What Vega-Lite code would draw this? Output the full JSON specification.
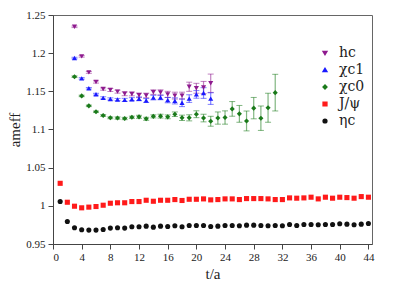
{
  "$schema": "https://vega.github.io/schema/vega-lite/v6.json",
  "width": 319,
  "height": 229,
  "autosize": "none",
  "padding": {"left": 53, "top": 15, "right": 38, "bottom": 45},
  "config": {
    "font": "Liberation Serif",
    "view": {"stroke": "#666", "strokeWidth": 1},
    "axis": {"labelFont": "Liberation Serif", "titleFont": "Liberation Serif", "labelFontSize": 11, "titleFontSize": 15, "titleFontWeight": "normal", "labelColor": "#222", "titleColor": "#222", "domainColor": "#444", "tickColor": "#444", "grid": false, "tickSize": 5, "labelOverlap": false},
    "legend": {"labelFont": "DejaVu Serif", "labelFontSize": 14, "labelColor": "#222", "symbolOpacity": 1, "symbolSize": 14, "rowPadding": 3, "labelOffset": 7}
  },
  "datasets": {
    "pts": [
      {"s":"hc","t":3,"v":1.2345,"err":0.001},{"s":"hc","t":4,"v":1.1958,"err":0.001},{"s":"hc","t":5,"v":1.1748,"err":0.0012},{"s":"hc","t":6,"v":1.1623,"err":0.0015},{"s":"hc","t":7,"v":1.153,"err":0.0015},{"s":"hc","t":8,"v":1.1518,"err":0.002},{"s":"hc","t":9,"v":1.1496,"err":0.002},{"s":"hc","t":10,"v":1.1468,"err":0.0025},{"s":"hc","t":11,"v":1.1466,"err":0.0025},{"s":"hc","t":12,"v":1.1448,"err":0.003},{"s":"hc","t":13,"v":1.1446,"err":0.003},{"s":"hc","t":14,"v":1.149,"err":0.003},{"s":"hc","t":15,"v":1.1485,"err":0.0035},{"s":"hc","t":16,"v":1.146,"err":0.004},{"s":"hc","t":17,"v":1.1444,"err":0.0045},{"s":"hc","t":18,"v":1.1444,"err":0.0045},{"s":"hc","t":19,"v":1.156,"err":0.006},{"s":"hc","t":20,"v":1.154,"err":0.0065},{"s":"hc","t":21,"v":1.155,"err":0.008},{"s":"hc","t":22,"v":1.1606,"err":0.012},
      {"s":"χc1","t":3,"v":1.1936,"err":0.001},{"s":"χc1","t":4,"v":1.167,"err":0.001},{"s":"χc1","t":5,"v":1.154,"err":0.001},{"s":"χc1","t":6,"v":1.1462,"err":0.0012},{"s":"χc1","t":7,"v":1.1414,"err":0.0015},{"s":"χc1","t":8,"v":1.14,"err":0.0015},{"s":"χc1","t":9,"v":1.1392,"err":0.0015},{"s":"χc1","t":10,"v":1.1388,"err":0.002},{"s":"χc1","t":11,"v":1.1397,"err":0.002},{"s":"χc1","t":12,"v":1.1402,"err":0.0025},{"s":"χc1","t":13,"v":1.138,"err":0.0025},{"s":"χc1","t":14,"v":1.1418,"err":0.003},{"s":"χc1","t":15,"v":1.142,"err":0.003},{"s":"χc1","t":16,"v":1.1385,"err":0.0035},{"s":"χc1","t":17,"v":1.1375,"err":0.004},{"s":"χc1","t":18,"v":1.135,"err":0.005},{"s":"χc1","t":19,"v":1.1405,"err":0.005},{"s":"χc1","t":20,"v":1.146,"err":0.005},{"s":"χc1","t":21,"v":1.1478,"err":0.007},{"s":"χc1","t":22,"v":1.1405,"err":0.0076},
      {"s":"χc0","t":3,"v":1.1692,"err":0.001},{"s":"χc0","t":4,"v":1.144,"err":0.001},{"s":"χc0","t":5,"v":1.131,"err":0.001},{"s":"χc0","t":6,"v":1.1232,"err":0.001},{"s":"χc0","t":7,"v":1.1183,"err":0.0012},{"s":"χc0","t":8,"v":1.1153,"err":0.0012},{"s":"χc0","t":9,"v":1.115,"err":0.0015},{"s":"χc0","t":10,"v":1.1144,"err":0.0015},{"s":"χc0","t":11,"v":1.116,"err":0.0015},{"s":"χc0","t":12,"v":1.1166,"err":0.002},{"s":"χc0","t":13,"v":1.114,"err":0.002},{"s":"χc0","t":14,"v":1.1172,"err":0.002},{"s":"χc0","t":15,"v":1.1175,"err":0.0025},{"s":"χc0","t":16,"v":1.1166,"err":0.0025},{"s":"χc0","t":17,"v":1.12,"err":0.003},{"s":"χc0","t":18,"v":1.1153,"err":0.0035},{"s":"χc0","t":19,"v":1.1153,"err":0.004},{"s":"χc0","t":20,"v":1.12,"err":0.0045},{"s":"χc0","t":21,"v":1.115,"err":0.005},{"s":"χc0","t":22,"v":1.1108,"err":0.0065},{"s":"χc0","t":23,"v":1.115,"err":0.008},{"s":"χc0","t":24,"v":1.1157,"err":0.0087},{"s":"χc0","t":25,"v":1.127,"err":0.0096},{"s":"χc0","t":26,"v":1.1205,"err":0.011},{"s":"χc0","t":27,"v":1.1112,"err":0.013},{"s":"χc0","t":28,"v":1.128,"err":0.014},{"s":"χc0","t":29,"v":1.1148,"err":0.016},{"s":"χc0","t":30,"v":1.1285,"err":0.019},{"s":"χc0","t":31,"v":1.1483,"err":0.024},
      {"s":"J/ψ","t":1,"v":1.0295},{"s":"J/ψ","t":2,"v":1.0047},{"s":"J/ψ","t":3,"v":0.9995},{"s":"J/ψ","t":4,"v":0.9974},{"s":"J/ψ","t":5,"v":0.9983},{"s":"J/ψ","t":6,"v":0.9991},{"s":"J/ψ","t":7,"v":1.0008},{"s":"J/ψ","t":8,"v":1.0034},{"s":"J/ψ","t":9,"v":1.004},{"s":"J/ψ","t":10,"v":1.004},{"s":"J/ψ","t":11,"v":1.0056},{"s":"J/ψ","t":12,"v":1.0056},{"s":"J/ψ","t":13,"v":1.0073},{"s":"J/ψ","t":14,"v":1.006},{"s":"J/ψ","t":15,"v":1.0073},{"s":"J/ψ","t":16,"v":1.0073},{"s":"J/ψ","t":17,"v":1.0082},{"s":"J/ψ","t":18,"v":1.007},{"s":"J/ψ","t":19,"v":1.0086},{"s":"J/ψ","t":20,"v":1.0086},{"s":"J/ψ","t":21,"v":1.0091},{"s":"J/ψ","t":22,"v":1.0078},{"s":"J/ψ","t":23,"v":1.0082},{"s":"J/ψ","t":24,"v":1.0091},{"s":"J/ψ","t":25,"v":1.0091},{"s":"J/ψ","t":26,"v":1.0082},{"s":"J/ψ","t":27,"v":1.0095},{"s":"J/ψ","t":28,"v":1.0095},{"s":"J/ψ","t":29,"v":1.0095},{"s":"J/ψ","t":30,"v":1.0091},{"s":"J/ψ","t":31,"v":1.0082},{"s":"J/ψ","t":32,"v":1.0082},{"s":"J/ψ","t":33,"v":1.0104},{"s":"J/ψ","t":34,"v":1.01},{"s":"J/ψ","t":35,"v":1.0104},{"s":"J/ψ","t":36,"v":1.0113},{"s":"J/ψ","t":37,"v":1.0091},{"s":"J/ψ","t":38,"v":1.0113},{"s":"J/ψ","t":39,"v":1.01},{"s":"J/ψ","t":40,"v":1.0113},{"s":"J/ψ","t":41,"v":1.0108},{"s":"J/ψ","t":42,"v":1.01},{"s":"J/ψ","t":43,"v":1.0121},{"s":"J/ψ","t":44,"v":1.0113},
      {"s":"ηc","t":1,"v":1.0056},{"s":"ηc","t":2,"v":0.9795},{"s":"ηc","t":3,"v":0.9713},{"s":"ηc","t":4,"v":0.9687},{"s":"ηc","t":5,"v":0.9682},{"s":"ηc","t":6,"v":0.9682},{"s":"ηc","t":7,"v":0.969},{"s":"ηc","t":8,"v":0.9708},{"s":"ηc","t":9,"v":0.9713},{"s":"ηc","t":10,"v":0.9708},{"s":"ηc","t":11,"v":0.9726},{"s":"ηc","t":12,"v":0.9726},{"s":"ηc","t":13,"v":0.9734},{"s":"ηc","t":14,"v":0.9721},{"s":"ηc","t":15,"v":0.9734},{"s":"ηc","t":16,"v":0.973},{"s":"ηc","t":17,"v":0.9739},{"s":"ηc","t":18,"v":0.9726},{"s":"ηc","t":19,"v":0.9743},{"s":"ηc","t":20,"v":0.9743},{"s":"ηc","t":21,"v":0.9743},{"s":"ηc","t":22,"v":0.973},{"s":"ηc","t":23,"v":0.9734},{"s":"ηc","t":24,"v":0.9743},{"s":"ηc","t":25,"v":0.9743},{"s":"ηc","t":26,"v":0.9739},{"s":"ηc","t":27,"v":0.9747},{"s":"ηc","t":28,"v":0.9747},{"s":"ηc","t":29,"v":0.9743},{"s":"ηc","t":30,"v":0.9739},{"s":"ηc","t":31,"v":0.9743},{"s":"ηc","t":32,"v":0.9739},{"s":"ηc","t":33,"v":0.9756},{"s":"ηc","t":34,"v":0.9743},{"s":"ηc","t":35,"v":0.9756},{"s":"ηc","t":36,"v":0.9756},{"s":"ηc","t":37,"v":0.9752},{"s":"ηc","t":38,"v":0.9756},{"s":"ηc","t":39,"v":0.9756},{"s":"ηc","t":40,"v":0.9765},{"s":"ηc","t":41,"v":0.976},{"s":"ηc","t":42,"v":0.9752},{"s":"ηc","t":43,"v":0.976},{"s":"ηc","t":44,"v":0.9769}
    ]
  },
  "data": {"name": "pts"},
  "encoding": {
    "x": {"field": "t", "type": "quantitative", "scale": {"domain": [0, 44.5], "nice": false}, "axis": {"title": "t/a", "values": [0,4,8,12,16,20,24,28,32,36,40,44], "labelPadding": 2, "titlePadding": 4}},
    "y": {"field": "v", "type": "quantitative", "scale": {"domain": [0.95, 1.25], "nice": false, "zero": false}, "axis": {"title": "ameff", "format": ".2~f", "values": [0.95,1,1.05,1.1,1.15,1.2,1.25], "labelPadding": 3, "titlePadding": 3}},
    "color": {"field": "s", "type": "nominal", "title": null, "scale": {"domain": ["hc","χc1","χc0","J/ψ","ηc"], "range": ["#8e1a8e","#1a1aff","#1a7a1a","#ff1a1a","#111111"]}, "legend": {"orient": "none", "legendX": 265, "legendY": 31}}
  },
  "layer": [
    {
      "transform": [{"filter": "isValid(datum.err)"}],
      "mark": {"type": "errorbar", "ticks": {"size": 6, "opacity": 0.55}, "rule": {"opacity": 0.55, "strokeWidth": 1.2}},
      "encoding": {
        "yError": {"field": "err"}
      }
    },
    {
      "mark": {"type": "point", "filled": true, "opacity": 1, "size": 26},
      "encoding": {
        "shape": {"field": "s", "type": "nominal", "title": null, "scale": {"domain": ["hc","χc1","χc0","J/ψ","ηc"], "range": ["triangle-down","triangle-up","diamond","square","circle"]}, "legend": {"orient": "none", "legendX": 265, "legendY": 31}}
      }
    }
  ]
}
